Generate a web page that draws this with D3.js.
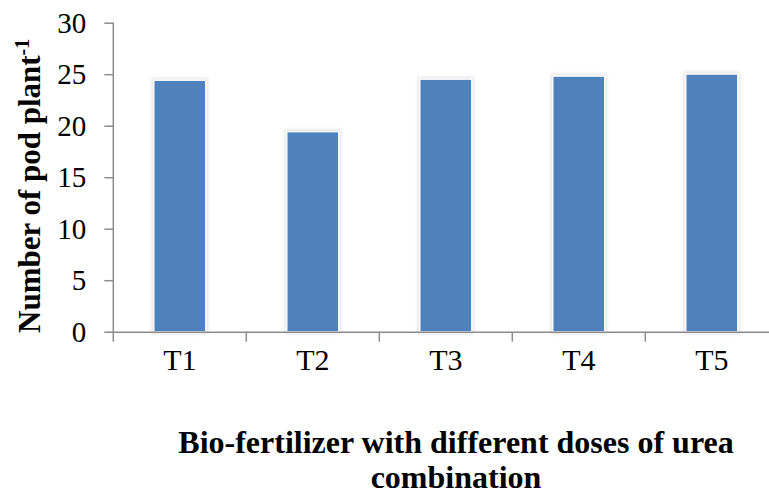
<!DOCTYPE html>
<html lang="en">
<head>
  <meta charset="UTF-8" />
  <title>Number of pod plant-1</title>
  <script src="https://d3js.org/d3.v7.min.js"></script>
  <style>
    body { margin: 0; background: #fff; }
    svg { display: block; }
  </style>
</head>
<body>
  <svg width="769" height="495" id="chart"></svg>

  <script>
    const categories = ["T1", "T2", "T3", "T4", "T5"];
    const podValues = [24.4, 19.4, 24.5, 24.8, 25.0];
    const yTicks = [0, 5, 10, 15, 20, 25, 30];

    const svg = d3.select("#chart");
    const plotLeft = 113.3, plotRight = 778.3, plotTop = 22.7, plotBottom = 331.7;
    const serif = "'Liberation Serif', 'Times New Roman', serif";
    const axisColor = "#8c8c8c";

    const x = d3.scaleBand().domain(categories).range([plotLeft, plotRight]).paddingInner(0.612).paddingOuter(0.306);
    const y = d3.scaleLinear().domain([0, 30]).range([plotBottom, plotTop]);

    // soft shadow like the Excel bars
    const defs = svg.append("defs");
    const f = defs.append("filter").attr("id", "glow").attr("x", "-20%").attr("y", "-20%").attr("width", "140%").attr("height", "140%");
    f.append("feMorphology").attr("in", "SourceAlpha").attr("operator", "dilate").attr("radius", 1.5).attr("result", "grow");
    f.append("feGaussianBlur").attr("in", "grow").attr("stdDeviation", 1.5).attr("result", "blur");
    f.append("feFlood").attr("flood-color", "#000").attr("flood-opacity", 0.1);
    f.append("feComposite").attr("in2", "blur").attr("operator", "in").attr("result", "shadow");
    const m = f.append("feMerge");
    m.append("feMergeNode").attr("in", "shadow");
    m.append("feMergeNode").attr("in", "SourceGraphic");

    svg.selectAll("rect.bar")
      .data(podValues)
      .enter()
      .append("rect")
      .attr("class", "bar")
      .attr("x", (d, i) => x(categories[i]))
      .attr("y", d => y(d))
      .attr("width", x.bandwidth())
      .attr("height", d => plotBottom - y(d))
      .attr("fill", "#4f81bd")
      .attr("stroke", "#ffffff")
      .attr("stroke-width", 1)
      .attr("filter", "url(#glow)");

    // y axis
    const yAxis = svg.append("g")
      .attr("transform", `translate(${plotLeft},0)`)
      .call(d3.axisLeft(y).tickValues(yTicks).tickSize(9).tickPadding(18).tickSizeOuter(0));
    yAxis.select(".domain").attr("stroke", axisColor).attr("stroke-width", 1.5).attr("d", `M0,${plotTop}V${plotBottom + 10}`);
    yAxis.selectAll(".tick line").attr("stroke", axisColor).attr("stroke-width", 1.5);
    yAxis.selectAll(".tick text")
      .attr("font-family", serif).attr("font-size", 29).attr("fill", "#000").attr("dy", "0.33em");

    // x axis
    const xAxis = svg.append("g")
      .attr("transform", `translate(0,${plotBottom})`)
      .call(d3.axisBottom(x).tickSize(0).tickPadding(38));
    xAxis.select(".domain").attr("stroke", axisColor).attr("stroke-width", 1.5);
    xAxis.selectAll(".tick text")
      .attr("font-family", serif).attr("font-size", 30).attr("fill", "#000").attr("dy", "0");

    // category separators
    const bounds = d3.range(categories.length + 1).map(i => plotLeft + i * x.step());
    svg.selectAll("line.sep")
      .data(bounds.slice(1))
      .enter()
      .append("line")
      .attr("x1", d => d).attr("x2", d => d)
      .attr("y1", plotBottom).attr("y2", plotBottom + 10)
      .attr("stroke", axisColor).attr("stroke-width", 1.5);

    // y title
    const yTitle = svg.append("text")
      .attr("transform", "translate(40,333) rotate(-90)")
      .attr("font-family", serif).attr("font-weight", "bold").attr("font-size", 31)
      .attr("fill", "#000");
    yTitle.append("tspan").text("Number of pod plant");
    yTitle.append("tspan").attr("font-size", 20).attr("dy", -11).text("-1");

    // x title
    svg.append("text")
      .attr("x", 456).attr("y", 453)
      .attr("text-anchor", "middle")
      .attr("font-family", serif).attr("font-weight", "bold").attr("font-size", 32)
      .attr("fill", "#000")
      .text("Bio-fertilizer with different doses of urea");
    svg.append("text")
      .attr("x", 456).attr("y", 488)
      .attr("text-anchor", "middle")
      .attr("font-family", serif).attr("font-weight", "bold").attr("font-size", 32)
      .attr("fill", "#000")
      .text("combination");
  </script>
</body>
</html>
